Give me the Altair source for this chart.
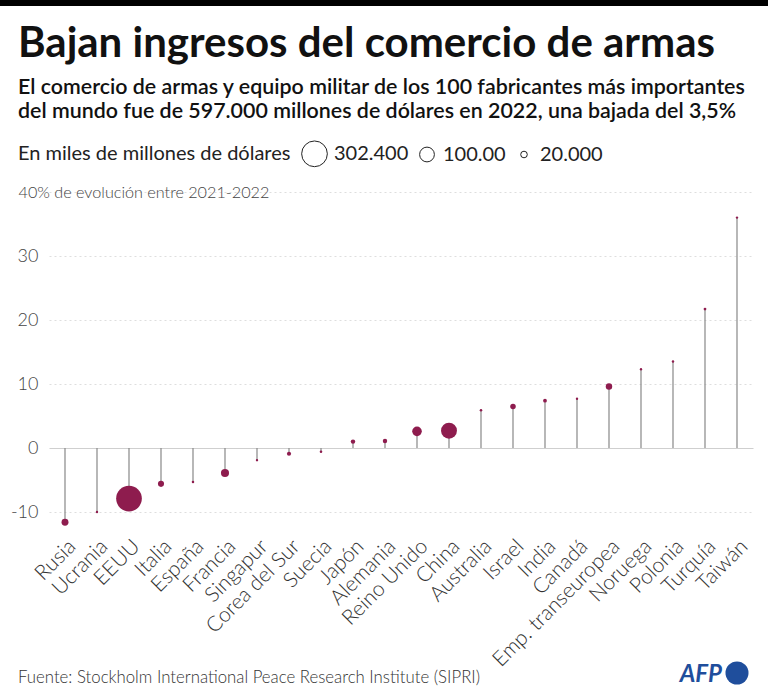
import altair as alt
import pandas as pd

# Variación 2021-2022 (%) y ventas de armas (miles de millones de dólares) por país
paises = ["Rusia", "Ucrania", "EEUU", "Italia", "España", "Francia", "Singapur",
          "Corea del Sur", "Suecia", "Japón", "Alemania", "Reino Unido", "China",
          "Australia", "Israel", "India", "Canadá", "Emp. transeuropea", "Noruega",
          "Polonia", "Turquía", "Taiwán"]
evolucion = [-11.6, -10.0, -7.9, -5.6, -5.3, -3.9, -1.9, -0.9, -0.6, 1.0, 1.1,
             2.6, 2.7, 5.9, 6.5, 7.4, 7.7, 9.6, 12.3, 13.5, 21.7, 36.0]
ingresos = [22, 2.5, 302.4, 17, 3, 30, 2.6, 8, 3, 9, 9, 42, 116, 3, 14, 6.5,
            2.5, 19, 2.5, 2.8, 3.5, 2.5]

titulo = "Bajan ingresos del comercio de armas"
subtitulo = [
    "El comercio de armas y equipo militar de los 100 fabricantes más importantes",
    "del mundo fue de 597.000 millones de dólares en 2022, una bajada del 3,5%",
]
leyenda_titulo = "En miles de millones de dólares"
leyenda_valores = [302.4, 100, 20]
leyenda_etiquetas = ["302.400", "100.00", "20.000"]
eje_y_valores = [-10, 0, 10, 20, 30, 40]
eje_y_titulo = "40% de evolución entre 2021-2022"
fuente = "Fuente: Stockholm International Peace Research Institute (SIPRI)"
logo = "AFP"

FONT = "Lato"
GRANATE = "#8e1c4e"
AZUL = "#1f4e9c"
W, H = 704, 339.2
PAD_L, PAD_T = 49, 192

df = pd.DataFrame({"pais": paises, "evolucion": evolucion, "ingresos": ingresos})

etiquetas_expr = " : ".join(
    f"datum.value == {v} ? '{t}'" for v, t in zip(leyenda_valores[:-1], leyenda_etiquetas[:-1])
) + f" : '{leyenda_etiquetas[-1]}'"

x_enc = alt.X(
    "pais:N", sort=paises, title=None,
    axis=alt.Axis(labelAngle=-45, labelAlign="right", labelBaseline="top",
                  labelFont=FONT, labelFontSize=21, labelFontWeight=300,
                  labelColor="#333", ticks=False, domain=False, labelPadding=4,
                  labelLimit=300, grid=False),
)
y_enc = alt.Y(
    "evolucion:Q", title=None,
    scale=alt.Scale(domain=[-13, 40], nice=False, zero=False),
    axis=alt.Axis(
        values=eje_y_valores,
        labelExpr=f"datum.value == 40 ? '{eje_y_titulo}' : datum.value",
        labelAlign={"condition": {"test": "datum.value == 40", "value": "left"}, "value": "right"},
        labelPadding={"condition": {"test": "datum.value == 40", "value": 31}, "value": 11},
        labelFontSize={"condition": {"test": "datum.value == 40", "value": 16.2}, "value": 18},
        labelFont=FONT, labelFontWeight=300, labelColor="#444",
        labelOverlap=False, labelLimit=400,
        ticks=False, tickSize=0, domain=False,
        grid=True,
        gridColor={"condition": {"test": "datum.value == 0", "value": "#cfcfcf"}, "value": "#dedede"},
        gridDash={"condition": {"test": "datum.value == 0", "value": []}, "value": [2, 3]},
        gridWidth=1,
    ),
)

escala_tamano = alt.Scale(domain=[0, 302.4], range=[0, 660])
def_leyenda = alt.Legend(
    title=leyenda_titulo, orient="none", legendX=-31, legendY=-52,
    direction="horizontal", titleOrient="left", values=leyenda_valores,
    labelExpr=etiquetas_expr, symbolType="circle", symbolOpacity=1,
    symbolStrokeColor="#222", symbolStrokeWidth=1, symbolFillColor="white",
    labelFont=FONT, labelFontSize=20, labelColor="#222", labelOffset=6,
    titleFont=FONT, titleFontSize=20, titleFontWeight="normal",
    titleColor="#222", titlePadding=10, titleLimit=400, columnPadding=8,
)

# capa vacía (sin filas) que sólo aporta la leyenda de tamaños con círculos huecos
leyenda = alt.Chart(df).transform_filter("false").mark_point(
    filled=False, color="#222", strokeWidth=1, opacity=1, shape="circle"
).encode(
    x=x_enc, y=y_enc,
    size=alt.Size("ingresos:Q", scale=escala_tamano, legend=def_leyenda),
)

tallos = alt.Chart(df).mark_rule(color="#888", strokeWidth=1.2).encode(
    x=x_enc, y=y_enc, y2=alt.datum(0)
)

puntos = alt.Chart(df).mark_circle(color=GRANATE, opacity=1).encode(
    x=x_enc, y=y_enc,
    size=alt.Size("ingresos:Q", scale=escala_tamano),
)


def texto(t, x, y, size, weight="normal", color="#111", align="left", style=None):
    kw = dict(align=align, baseline="alphabetic", font=FONT, fontSize=size,
              fontWeight=weight, color=color)
    if style:
        kw["fontStyle"] = style
    return alt.Chart(pd.DataFrame({"t": [t]})).mark_text(**kw).encode(
        text="t:N", x=alt.value(x), y=alt.value(y)
    )


capa_titulo = texto(titulo, 18 - PAD_L, 57 - PAD_T, 42, weight="bold", color="#111")
capa_sub1 = texto(subtitulo[0], 18 - PAD_L, 94 - PAD_T, 21.4, weight=600, color="#111")
capa_sub2 = texto(subtitulo[1], 18 - PAD_L, 118 - PAD_T, 21.4, weight=600, color="#111")
capa_fuente = texto(fuente, 18 - PAD_L, 683 - PAD_T, 16.8, weight=300, color="#333")
capa_logo = texto(logo, 722 - PAD_L, 682 - PAD_T, 24, weight="bold", color=AZUL,
                  align="right", style="italic")

circulo_logo = alt.Chart(pd.DataFrame({"a": [1]})).mark_circle(
    color=AZUL, opacity=1
).encode(x=alt.value(737 - PAD_L), y=alt.value(673 - PAD_T), size=alt.value(531))

barra = alt.Chart(pd.DataFrame({"a": [1]})).mark_rule(
    color="#000", strokeWidth=6
).encode(x=alt.value(-PAD_L), x2=alt.value(768 - PAD_L), y=alt.value(3 - PAD_T))

chart = (
    alt.layer(leyenda, tallos, puntos, capa_titulo, capa_sub1, capa_sub2,
              capa_fuente, capa_logo, circulo_logo, barra)
    .properties(
        width=W, height=H,
        autosize=alt.AutoSizeParams(type="none"),
        padding={"left": PAD_L, "top": PAD_T, "right": 768 - PAD_L - W,
                 "bottom": 698 - PAD_T - H},
        background="white",
    )
    .configure_view(stroke=None)
)

chart.save("out.html", embed_options={"renderer": "svg", "actions": False})
